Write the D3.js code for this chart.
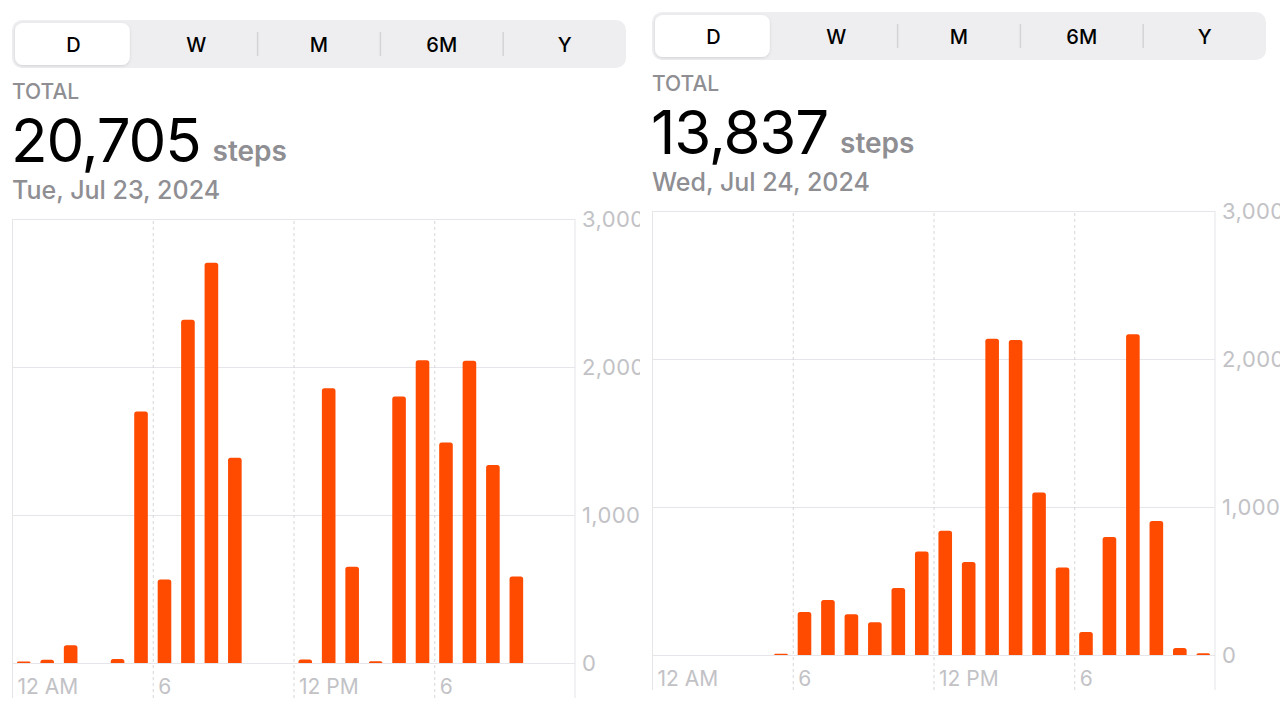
<!DOCTYPE html>
<html>
<head>
<meta charset="utf-8">
<script src="https://cdn.jsdelivr.net/npm/d3@7"></script>
<style>
  html, body { margin: 0; padding: 0; background: #fff; }
  svg { display: block; font-family: Inter, "Noto Sans", sans-serif; }
</style>
</head>
<body>
<svg id="chart" width="1280" height="718"></svg>
<script>
// ---------- data ----------
const hours = d3.range(24);
const segments = ["D", "W", "M", "6M", "Y"];
const yTicks = [0, 1000, 2000, 3000];
const xTickHours = [0, 6, 12, 18];
const xTickLabels = ["12 AM", "6", "12 PM", "6"];

const day1Label = "Tue, Jul 23, 2024";
const day1Total = "20,705";
const day1Steps = [10, 22, 120, 0, 27, 1700, 565, 2320, 2705, 1387, 0, 0,
                   24, 1857, 650, 12, 1801, 2045, 1490, 2042, 1337, 585, 0, 0];

const day2Label = "Wed, Jul 24, 2024";
const day2Total = "13,837";
const day2Steps = [0, 0, 0, 0, 0, 8, 291, 372, 275, 221, 453, 699,
                   839, 628, 2137, 2129, 1098, 592, 156, 797, 2168, 905, 47, 12];

const unitLabel = "steps";
const totalLabel = "TOTAL";

// ---------- drawing ----------
const svg = d3.select("#chart");
const defs = svg.append("defs");
const sh = defs.append("filter").attr("id", "shadow")
  .attr("x", "-20%").attr("y", "-30%").attr("width", "140%").attr("height", "160%");
sh.append("feDropShadow").attr("dx", 0).attr("dy", 1).attr("stdDeviation", 1.5)
  .attr("flood-color", "#000").attr("flood-opacity", 0.12);

["clipL", "clipR"].forEach(id => {
  defs.append("clipPath").attr("id", id).append("rect")
    .attr("x", 0).attr("y", -20).attr("width", 640).attr("height", 760);
});

const GRAY = "#8e8e93";
const LIGHT = "#c2c2c6";
const GRID = "#e5e5ea";
const BAR = "#ff4b00";

function barPath(x, y, w, h, r) {
  r = Math.min(r, h, w / 2);
  return `M${x},${y + h}V${y + r}Q${x},${y} ${x + r},${y}H${x + w - r}Q${x + w},${y} ${x + w},${y + r}V${y + h}Z`;
}

function drawPanel(g, steps, total, dateLabel) {
  // segmented control
  const segX0 = 12, segW = 614, segY = 20, segH = 48;
  const seg = d3.scaleBand().domain(segments).range([segX0, segX0 + segW]);
  g.append("rect").attr("x", segX0).attr("y", segY).attr("width", segW).attr("height", segH)
    .attr("rx", 10).attr("fill", "#eeeef0");
  g.append("rect").attr("x", segX0 + 3).attr("y", segY + 3)
    .attr("width", seg.bandwidth() - 8).attr("height", segH - 6)
    .attr("rx", 8).attr("fill", "#fff").attr("filter", "url(#shadow)");
  g.selectAll(".sep").data(segments.slice(2)).join("line")
    .attr("x1", d => seg(d)).attr("x2", d => seg(d))
    .attr("y1", segY + 12).attr("y2", segY + 36)
    .attr("stroke", "#d3d3d8").attr("stroke-width", 1.5);
  g.selectAll(".segLabel").data(segments).join("text")
    .attr("x", d => seg(d) + seg.bandwidth() / 2).attr("y", segY + 25)
    .attr("text-anchor", "middle").attr("dominant-baseline", "central")
    .attr("font-size", 20).attr("font-weight", 500).attr("fill", "#000")
    .text(d => d);

  // header texts
  g.append("text").attr("x", 12).attr("y", 99).attr("font-size", 21)
    .attr("font-weight", 500).attr("fill", GRAY).text(totalLabel);
  const big = g.append("text").attr("x", 11).attr("y", 162).attr("font-size", 60)
    .attr("font-weight", 400).attr("fill", "#000").attr("letter-spacing", -1.2).text(total);
  const bw = big.node().getComputedTextLength();
  g.append("text").attr("x", 11 + bw + 12).attr("y", 161).attr("font-size", 28)
    .attr("font-weight", 600).attr("fill", GRAY).text(unitLabel);
  g.append("text").attr("x", 12).attr("y", 199).attr("font-size", 25)
    .attr("font-weight", 500).attr("fill", GRAY).text(dateLabel);

  // chart
  const x0 = 12, x1 = 575, yTop = 219, yZero = 663, yBottom = 698;
  const y = d3.scaleLinear().domain([0, 3000]).range([yZero, yTop]);
  const hx = d3.scaleLinear().domain([0, 24]).range([x0, x1]);
  const band = d3.scaleBand().domain(hours).range([x0, x1])
    .paddingInner(0.42).paddingOuter(0.21);

  // y axis with gridlines
  const yAxis = d3.axisRight(y).tickValues(yTicks).tickFormat(d3.format(","))
    .tickSizeInner(-(x1 - x0)).tickSizeOuter(0).tickPadding(7);
  const ya = g.append("g").attr("transform", `translate(${x1},0)`).call(yAxis);
  ya.select(".domain").remove();
  ya.selectAll("line").attr("stroke", GRID).attr("stroke-width", 1);
  ya.selectAll("text").attr("fill", LIGHT).attr("font-size", 22)
    .attr("letter-spacing", 0.4)
    .attr("font-family", "Inter, sans-serif").attr("dy", "0.35em");

  // x axis: vertical lines + labels
  const xAxis = d3.axisBottom(hx).tickValues(xTickHours)
    .tickFormat((d, i) => xTickLabels[i])
    .tickSizeInner(-(yBottom - yTop)).tickSizeOuter(0);
  const xa = g.append("g").attr("transform", `translate(0,${yBottom})`).call(xAxis);
  xa.select(".domain").remove();
  xa.selectAll("line").attr("stroke", d => d === 0 ? GRID : "#d6d6da")
    .attr("stroke-width", 1)
    .attr("stroke-dasharray", d => d === 0 ? null : "3,3");
  xa.selectAll("text").attr("fill", LIGHT).attr("font-size", 21)
    .attr("font-family", "Inter, sans-serif")
    .attr("text-anchor", "start").attr("x", 5).attr("y", -4).attr("dy", null);

  // right border
  g.append("line").attr("x1", x1).attr("x2", x1).attr("y1", yTop).attr("y2", yBottom)
    .attr("stroke", GRID).attr("stroke-width", 1);

  // bars
  g.selectAll(".bar").data(hours.filter(h => steps[h] > 0)).join("path")
    .attr("fill", BAR)
    .attr("d", h => barPath(band(h), y(steps[h]), band.bandwidth(), yZero - y(steps[h]), 2.5));
}

const left = svg.append("g").attr("clip-path", "url(#clipL)");
drawPanel(left, day1Steps, day1Total, day1Label);

const rightWrap = svg.append("g").attr("transform", "translate(640,-8)");
const right = rightWrap.append("g").attr("clip-path", "url(#clipR)");
drawPanel(right, day2Steps, day2Total, day2Label);
</script>
</body>
</html>
